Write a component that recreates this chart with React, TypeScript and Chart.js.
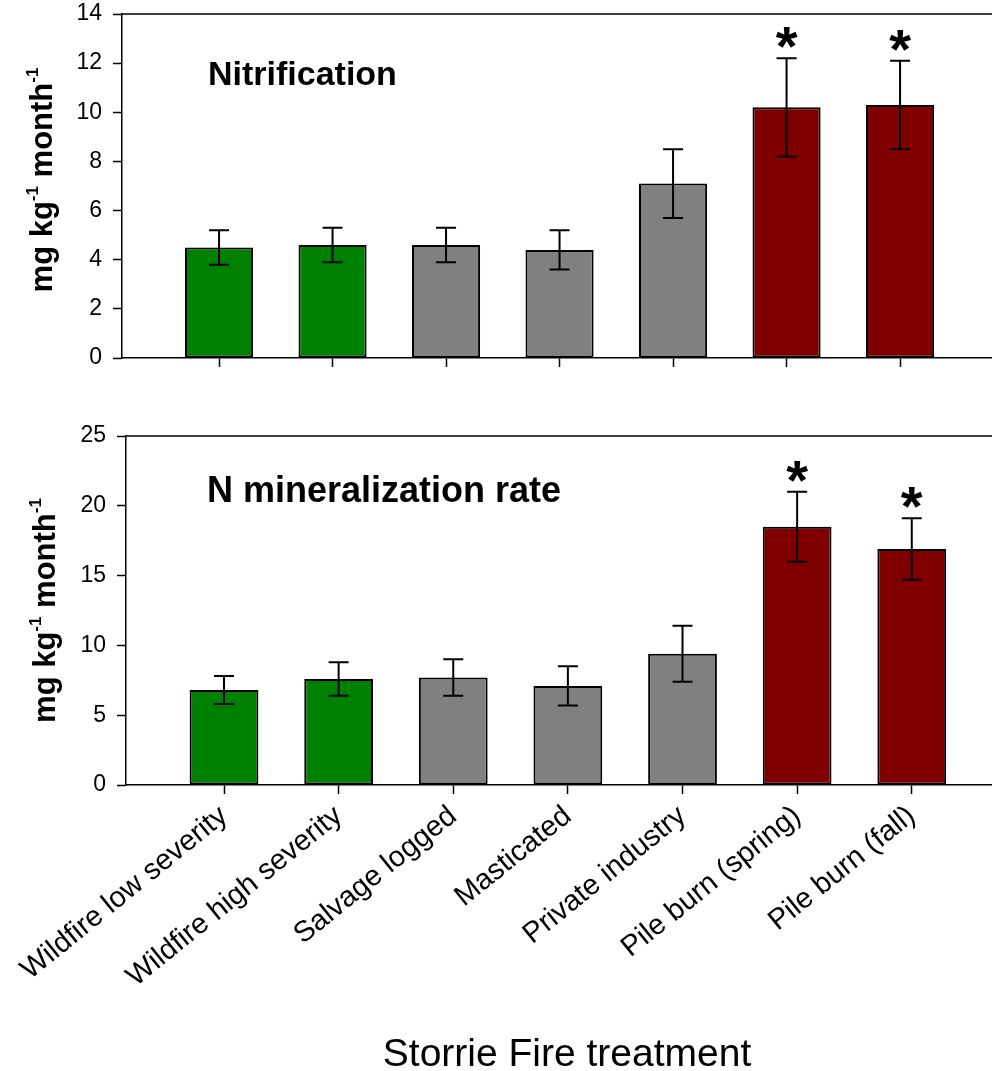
import React, { useEffect, useRef } from 'react';
import { Chart, registerables } from 'chart.js';

Chart.register(...registerables);

// ---------- data ----------
const categories = [
  'Wildfire low severity',
  'Wildfire high severity',
  'Salvage logged',
  'Masticated',
  'Private industry',
  'Pile burn (spring)',
  'Pile burn (fall)',
];
const barColors = ['#008000', '#008000', '#808080', '#808080', '#808080', '#800000', '#800000'];

const nitrificationMean = [4.5, 4.6, 4.6, 4.4, 7.1, 10.2, 10.3];
const nitrificationErr = [0.7, 0.7, 0.7, 0.8, 1.4, 2.0, 1.8];
const nitrificationSignificant = [false, false, false, false, false, true, true];
const nitrificationTicks = [0, 2, 4, 6, 8, 10, 12, 14];

const mineralizationMean = [6.8, 7.6, 7.7, 7.1, 9.4, 18.5, 16.9];
const mineralizationErr = [1.0, 1.2, 1.3, 1.4, 2.0, 2.5, 2.2];
const mineralizationSignificant = [false, false, false, false, false, true, true];
const mineralizationTicks = [0, 5, 10, 15, 20, 25];

const yTitleParts = [
  { text: 'mg kg', sup: false },
  { text: '-1', sup: true },
  { text: ' month', sup: false },
  { text: '-1', sup: true },
];
const xTitle = 'Storrie Fire treatment';
const topPanelLabel = 'Nitrification';
const bottomPanelLabel = 'N mineralization rate';

const FONT = '"Liberation Sans", Arial, Helvetica, sans-serif';

type PanelCfg = {
  means: number[];
  errs: number[];
  sig: boolean[];
  ticks: number[];
  label: string;
  labelX: number;
  labelY: number;
  labelSize: number;
  yTitleX: number;
  yTitleShift: number;
  axisWidth: number;
  xAxisHeight: number;
  padTop: number;
  xMin: number;
  xMax: number;
  showXLabels: boolean;
  showXTitle: boolean;
};

function drawYTitle(ctx: CanvasRenderingContext2D, x: number, cy: number) {
  const mainFont = `bold 31px ${FONT}`;
  const supFont = `bold 17px ${FONT}`;
  ctx.save();
  ctx.translate(x, cy);
  ctx.rotate(-Math.PI / 2);
  let total = 0;
  const widths: number[] = [];
  yTitleParts.forEach((p) => {
    ctx.font = p.sup ? supFont : mainFont;
    const w = ctx.measureText(p.text).width;
    widths.push(w);
    total += w;
  });
  let pos = -total / 2;
  ctx.fillStyle = '#000';
  ctx.textAlign = 'left';
  ctx.textBaseline = 'alphabetic';
  yTitleParts.forEach((p, i) => {
    ctx.font = p.sup ? supFont : mainFont;
    ctx.fillText(p.text, pos, p.sup ? -14 : 0);
    pos += widths[i];
  });
  ctx.restore();
}

function makeChart(canvas: HTMLCanvasElement, cfg: PanelCfg) {
  const overlay = {
    id: 'overlay' + cfg.label.length,
    afterDatasetsDraw(chart: any) {
      const { ctx, chartArea } = chart;
      const xs = chart.scales.x;
      const ys = chart.scales.y;
      ctx.save();
      // top frame line
      ctx.strokeStyle = '#000';
      ctx.lineWidth = 1.5;
      ctx.beginPath();
      ctx.moveTo(chartArea.left, chartArea.top);
      ctx.lineTo(chartArea.right, chartArea.top);
      ctx.stroke();
      // error bars
      ctx.lineWidth = 2;
      cfg.means.forEach((m, i) => {
        const px = xs.getPixelForValue(i);
        const top = ys.getPixelForValue(m + cfg.errs[i]);
        const bot = ys.getPixelForValue(m - cfg.errs[i]);
        ctx.beginPath();
        ctx.moveTo(px, top);
        ctx.lineTo(px, bot);
        ctx.moveTo(px - 10, top);
        ctx.lineTo(px + 10, top);
        ctx.moveTo(px - 10, bot);
        ctx.lineTo(px + 10, bot);
        ctx.stroke();
        if (cfg.sig[i]) {
          ctx.fillStyle = '#000';
          ctx.font = `bold 56px ${FONT}`;
          ctx.textAlign = 'center';
          ctx.textBaseline = 'alphabetic';
          ctx.fillText('*', px, top + 7);
        }
      });
      // panel label
      ctx.fillStyle = '#000';
      ctx.font = `bold ${cfg.labelSize}px ${FONT}`;
      ctx.textAlign = 'left';
      ctx.textBaseline = 'alphabetic';
      ctx.fillText(cfg.label, cfg.labelX, cfg.labelY);
      // y title
      drawYTitle(ctx, cfg.yTitleX, (chartArea.top + chartArea.bottom) / 2 + cfg.yTitleShift);
      // x title
      if (cfg.showXTitle) {
        ctx.font = `39px ${FONT}`;
        ctx.textAlign = 'center';
        ctx.textBaseline = 'alphabetic';
        ctx.fillText(xTitle, 567, chart.height - 5);
      }
      ctx.restore();
    },
  };

  return new Chart(canvas, {
    type: 'bar',
    data: {
      datasets: [
        {
          data: cfg.means.map((v, i) => ({ x: i, y: v })),
          backgroundColor: barColors,
          borderColor: '#000',
          borderWidth: 2,
          borderSkipped: false,
          barPercentage: 0.6,
          categoryPercentage: 1,
        } as any,
      ],
    },
    options: {
      animation: false,
      responsive: false,
      maintainAspectRatio: false,
      devicePixelRatio: 1,
      layout: { padding: { top: cfg.padTop, left: 0, right: 0, bottom: 0 } },
      plugins: { legend: { display: false }, tooltip: { enabled: false } },
      scales: {
        x: {
          type: 'linear',
          offset: false,
          min: cfg.xMin,
          max: cfg.xMax,
          afterBuildTicks: (axis: any) => {
            axis.ticks = categories.map((_, i) => ({ value: i }));
          },
          afterFit: (axis: any) => {
            axis.height = cfg.xAxisHeight;
            axis.paddingRight = 0;
          },
          grid: {
            offset: false,
            drawOnChartArea: false,
            drawTicks: true,
            tickLength: 9,
            tickWidth: 1.5,
            tickColor: '#000',
          },
          border: { display: true, color: '#000', width: 1.5 },
          ticks: {
            autoSkip: false,
            minRotation: cfg.showXLabels ? 39 : 0,
            maxRotation: cfg.showXLabels ? 39 : 0,
            padding: 5,
            color: '#000',
            font: { family: FONT, size: 29 },
            callback: (v: any) => (cfg.showXLabels ? categories[Math.round(Number(v))] : ''),
          },
        },
        y: {
          min: cfg.ticks[0],
          max: cfg.ticks[cfg.ticks.length - 1],
          afterBuildTicks: (axis: any) => {
            axis.ticks = cfg.ticks.map((v) => ({ value: v }));
          },
          afterFit: (axis: any) => {
            axis.width = cfg.axisWidth;
            axis.paddingTop = 0;
            axis.paddingBottom = 0;
          },
          grid: {
            drawOnChartArea: false,
            drawTicks: true,
            tickLength: 9,
            tickWidth: 1.5,
            tickColor: '#000',
          },
          border: { display: true, color: '#000', width: 1.5 },
          ticks: {
            padding: 11,
            color: '#000',
            font: { family: FONT, size: 23 },
          },
        },
      },
    },
    plugins: [overlay],
  } as any);
}

export default function App() {
  const topRef = useRef<HTMLCanvasElement>(null);
  const botRef = useRef<HTMLCanvasElement>(null);

  useEffect(() => {
    const c1 = makeChart(topRef.current!, {
      means: nitrificationMean,
      errs: nitrificationErr,
      sig: nitrificationSignificant,
      ticks: nitrificationTicks,
      label: topPanelLabel,
      labelX: 208,
      labelY: 85,
      labelSize: 34,
      yTitleX: 52,
      yTitleShift: -6,
      axisWidth: 122,
      xAxisHeight: 42,
      padTop: 14,
      xMin: -0.855,
      xMax: 6.81,
      showXLabels: false,
      showXTitle: false,
    });
    const c2 = makeChart(botRef.current!, {
      means: mineralizationMean,
      errs: mineralizationErr,
      sig: mineralizationSignificant,
      ticks: mineralizationTicks,
      label: bottomPanelLabel,
      labelX: 207,
      labelY: 102,
      labelSize: 36,
      yTitleX: 55,
      yTitleShift: 0,
      axisWidth: 126,
      xAxisHeight: 286,
      padTop: 36,
      xMin: -0.855,
      xMax: 6.70,
      showXLabels: true,
      showXTitle: true,
    });
    return () => {
      c1.destroy();
      c2.destroy();
    };
  }, []);

  return (
    <div style={{ position: 'absolute', left: 0, top: 0, width: 992, height: 1071, background: '#fff' }}>
      <canvas ref={topRef} width={992} height={400} style={{ display: 'block', width: 992, height: 400 }} />
      <canvas ref={botRef} width={992} height={671} style={{ display: 'block', width: 992, height: 671 }} />
    </div>
  );
}
